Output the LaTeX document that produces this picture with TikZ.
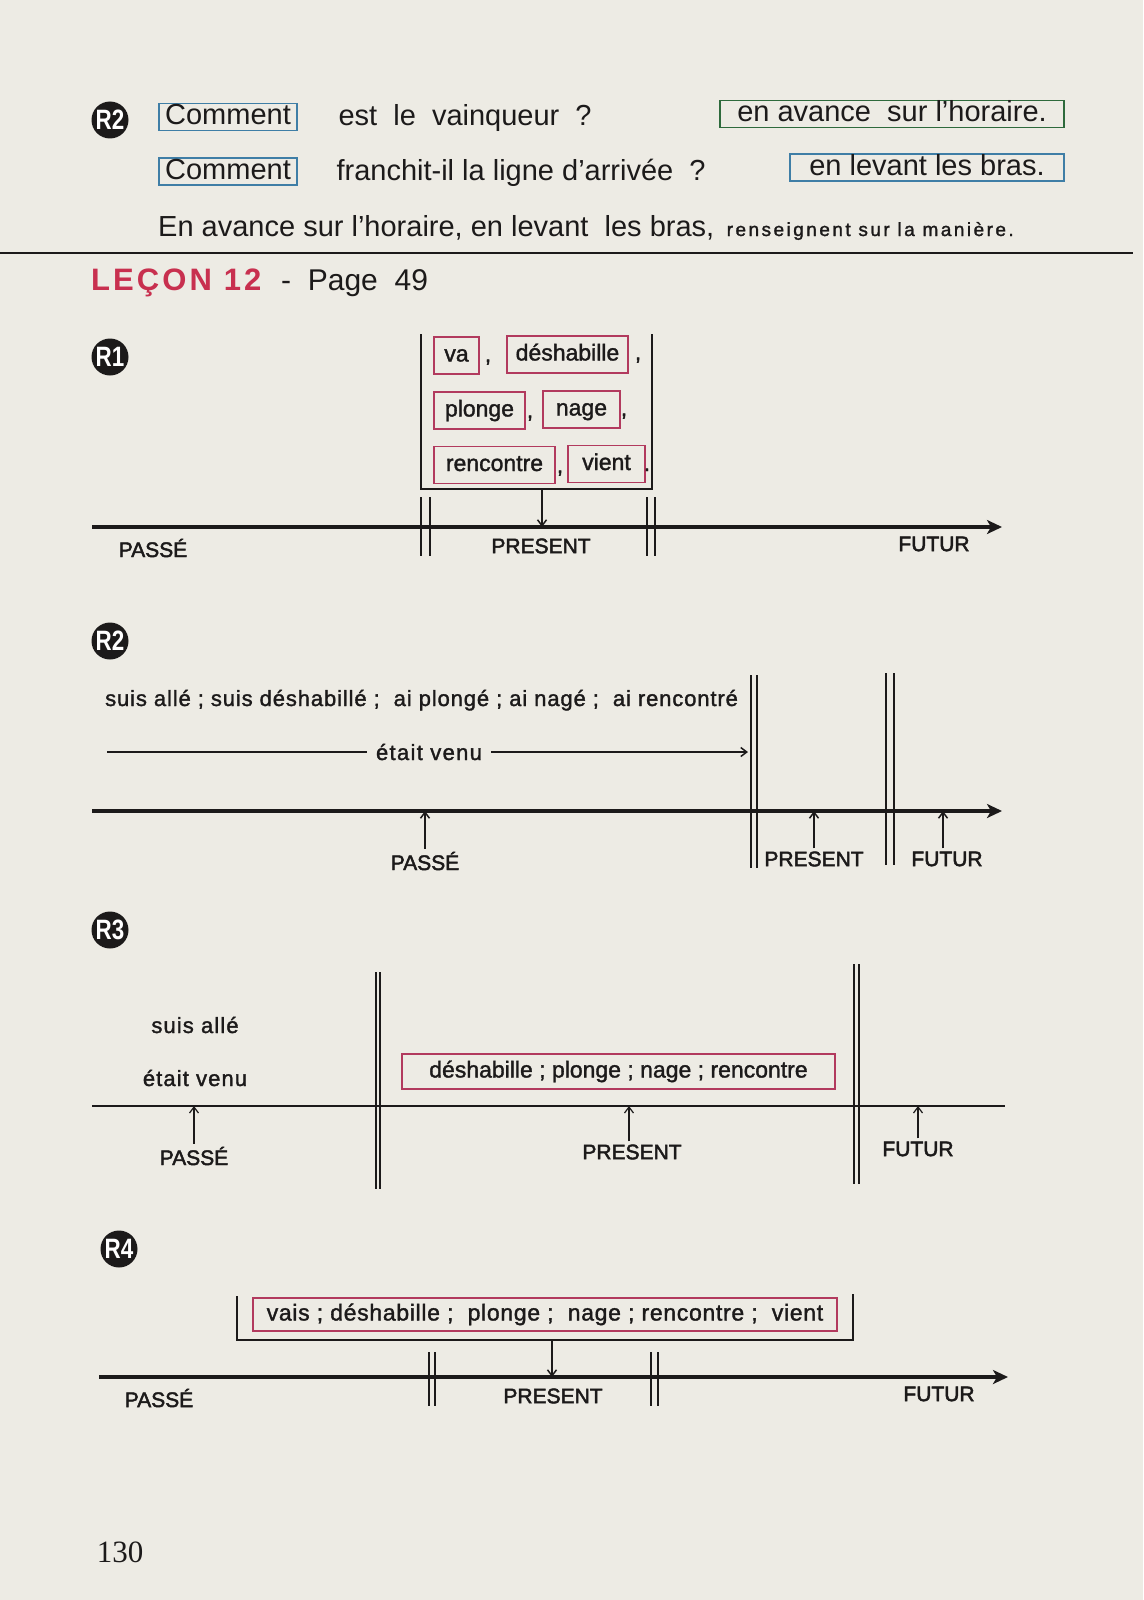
\documentclass[tikz,border=0pt]{standalone}
\usepackage{fontspec}
\setmainfont{Liberation Sans}
\newfontfamily\medfont[FakeBold=1.5]{Liberation Sans}
\newfontfamily\lblfont[FakeBold=2.2]{Liberation Sans}
\newfontfamily\pagefont{Liberation Serif}
\usetikzlibrary{arrows.meta}
\definecolor{paper}{HTML}{EDEBE4}
\definecolor{ink}{HTML}{1C1A1A}
\definecolor{crim}{HTML}{B23A5E}
\definecolor{leconred}{HTML}{C8304F}
\definecolor{boxblue}{HTML}{3F7EA6}
\definecolor{boxgreen}{HTML}{2E6A3C}
\newcommand{\badge}[3]{\node[badge] (#3) at (#1) {\scalebox{0.8}[1]{#2}}}
\newcommand{\dbar}[5][bar]{\draw[#1] (#2,#4) -- (#2,#5);
	\draw[#1] (#3,#4) -- (#3,#5)}
\tikzset{
	badge/.style={circle,fill=ink,text=white,inner sep=0pt,minimum size=37pt,
		font=\fontsize{28}{28}\bfseries\selectfont},
	big/.style={text=ink,font=\fontsize{29}{32}\selectfont},
	qbox/.style={big,draw=boxblue,line width=1.5pt,inner sep=0pt,
		text height=21pt,text depth=6pt},
	abox/.style={qbox,draw=boxgreen},
	wbox/.style={draw=crim,line width=1.6pt,inner sep=0pt,text=ink,
		text height=17pt,text depth=5pt,minimum height=37pt,
		font=\medfont\fontsize{23}{25}\selectfont},
	txt/.style={text=ink,font=\medfont\fontsize{22}{24}\selectfont},
	lbl/.style={text=ink,inner sep=3pt,font=\lblfont\fontsize{21}{23}\selectfont},
	timeline/.style={draw=ink,line width=3.2pt,-{Stealth[length=15pt,width=14pt,inset=4pt]}},
	thinline/.style={draw=ink,line width=1.6pt},
	bar/.style={draw=ink,line width=1.8pt},
	thinbar/.style={draw=ink,line width=1.4pt},
	bracketline/.style={draw=ink,line width=1.8pt},
	arr/.style={draw=ink,line width=1.5pt,-{Straight Barb[length=6pt,width=9pt]}}
}
\begin{document}
\begin{tikzpicture}[x=1pt,y=-1pt]
	\fill[paper] (0,0) rectangle (1143,1600);
	\useasboundingbox (0,0) rectangle (1143,1600);
	\badge{110,120}{R2}{rq};
	\node[qbox,minimum width=138pt] (cm1) at (228,117) {Comment};
	\node[big,anchor=base west] (q1) at (335,126) {est \ le \ vainqueur \ ?};
	\node[abox,minimum width=344pt] (a1) at (892,114) {en avance \ sur l’horaire.};
	\node[qbox,minimum width=138pt] (cm2) at (228,171.5) {Comment};
	\node[big,anchor=base west] (q2) at (333,180) {franchit-il la ligne d’arrivée \ ?};
	\node[qbox,minimum width=274pt] (a2) at (927,167.5) {en levant les bras.};
	\node[big,anchor=base west,inner sep=0pt] (rs) at (158,236) {En avance sur l’horaire, en levant \ les bras,};
	\node[txt,anchor=base west,inner sep=0pt,font=\medfont\fontsize{19}{22}\addfontfeature{LetterSpace=13}] (rs2) at ([xshift=12pt]rs.base east) {renseignent sur la manière.};
	\coordinate (rule0) at (0,253);
	\coordinate (rule1) at (1133,253);
	\draw[ink,line width=1.6pt] (rule0) -- (rule1);
	\node[anchor=base west,inner sep=0pt,text=leconred,font=\fontsize{31}{33}\bfseries\addfontfeature{LetterSpace=10}] (lecon) at (91,290) {LEÇON 12};
	\node[anchor=base west,inner sep=0pt,text=ink,font=\fontsize{30}{32}\selectfont] (page) at (281,290) {- \ Page \ 49};

	\badge{110,357}{R1}{r1};
	\draw[bracketline] (421,334) -- (421,489) -- (652,489) -- (652,334);
	\node[wbox,minimum width=45pt] (va) at (456.5,355.5) {va};
	\node[txt,anchor=base] (c1) at (488,362) {,};
	\node[wbox,minimum width=121pt] (desh) at (567.5,354.5) {déshabille};
	\node[txt,anchor=base] (c2) at (638,360) {,};
	\node[wbox,minimum width=91pt] (plon) at (479.5,410.5) {plonge};
	\node[txt,anchor=base] (c3) at (530,418) {,};
	\node[wbox,minimum width=77pt] (nage) at (581.5,409.5) {nage};
	\node[txt,anchor=base] (c4) at (624,416) {,};
	\node[wbox,minimum width=121pt] (renc) at (494.5,465) {rencontre};
	\node[txt,anchor=base] (c5) at (560,473) {,};
	\node[wbox,minimum width=77pt] (vien) at (606.5,464) {vient};
	\node[txt,anchor=base] (c6) at (647,471) {.};
	\coordinate (r1s) at (92,527);
	\coordinate (r1e) at (1002,527);
	\coordinate (d1) at (542,489);
	\draw[timeline] (r1s) -- (r1e);
	\draw[arr] (d1) -- (d1 |- r1s);
	\dbar{421}{430}{497}{556};
	\dbar{647}{655}{497}{556};
	\node[lbl] (pas1) at (153,548) {PASSÉ};
	\node[lbl] (pre1) at (541,546) {PRESENT};
	\node[lbl] (fut1) at (934,544) {FUTUR};

	\badge{110,641}{R2}{r2};
	\node[txt,anchor=base west,inner sep=0pt,font=\medfont\fontsize{22}{24}\addfontfeature{LetterSpace=4}] (pc2) at (105,706) {suis allé ; suis déshabillé ; \ ai plongé ; ai nagé ; \ ai rencontré};
	\coordinate (ev2s) at (107,752);
	\coordinate (ev2e) at (748,752);
	\node[txt,inner sep=9pt,font=\medfont\fontsize{22}{24}\addfontfeature{LetterSpace=6}] (ev2) at (429,752) {était venu};
	\draw[thinline] (ev2s) -- (ev2);
	\draw[arr] (ev2) -- (ev2e);
	\coordinate (r2s) at (92,811);
	\coordinate (r2e) at (1002,811);
	\draw[timeline] (r2s) -- (r2e);
	\dbar{751}{757}{675}{868};
	\dbar{886}{894}{673}{865};
	\node[lbl] (pas2) at (425,861) {PASSÉ};
	\node[lbl] (pre2) at (814,859) {PRESENT};
	\node[lbl] (fut2) at (947,859) {FUTUR};
	\draw[arr] (pas2.north) -- (pas2.north |- r2s);
	\draw[arr] (pre2.north) -- (pre2.north |- r2s);
	\draw[arr] ([xshift=-4pt]fut2.north) -- ([xshift=-4pt]fut2.north |- r2s);

	\badge{110,930}{R3}{r3};
	\dbar[thinbar]{376}{380}{972}{1189};
	\dbar[thinbar]{854}{859}{964}{1184};
	\node[txt,font=\medfont\fontsize{22}{24}\addfontfeature{LetterSpace=5}] (sa3) at (195,1025) {suis allé};
	\node[txt,font=\medfont\fontsize{22}{24}\addfontfeature{LetterSpace=5}] (ev3) at (195,1078) {était venu};
	\node[wbox,minimum width=433pt,minimum height=35pt] (pb3) at (618.5,1071.5) {déshabille ; plonge ; nage ; rencontre};
	\coordinate (r3s) at (92,1106);
	\coordinate (r3e) at (1005,1106);
	\draw[thinline] (r3s) -- (r3e);
	\node[lbl] (pas3) at (194,1156) {PASSÉ};
	\node[lbl] (pre3) at (632,1152) {PRESENT};
	\node[lbl] (fut3) at (918,1149) {FUTUR};
	\draw[arr,line width=1.2pt] (pas3.north) -- (pas3.north |- r3s);
	\draw[arr,line width=1.2pt] ([xshift=-3pt]pre3.north) -- ([xshift=-3pt]pre3.north |- r3s);
	\draw[arr,line width=1.2pt] (fut3.north) -- (fut3.north |- r3s);

	\badge{119,1249}{R4}{r4};
	\draw[bracketline] (237,1296) -- (237,1340) -- (853,1340) -- (853,1294);
	\node[wbox,minimum width=584pt,minimum height=33pt,font=\medfont\fontsize{23}{25}\addfontfeature{LetterSpace=3}] (pb4) at (545,1314.5) {vais ; déshabille ; \ plonge ; \ nage ; rencontre ; \ vient};
	\coordinate (r4s) at (99,1377);
	\coordinate (r4e) at (1008,1377);
	\coordinate (d4) at (552,1340);
	\draw[timeline] (r4s) -- (r4e);
	\draw[arr] (d4) -- (d4 |- r4s);
	\dbar{429}{435}{1352}{1406};
	\dbar{651}{658}{1352}{1406};
	\node[lbl] (pas4) at (159,1398) {PASSÉ};
	\node[lbl] (pre4) at (553,1396) {PRESENT};
	\node[lbl] (fut4) at (939,1394) {FUTUR};

	\node[text=ink,font=\pagefont\fontsize{31}{33}\selectfont] (pg) at (120,1552) {130};
\end{tikzpicture}
\end{document}
